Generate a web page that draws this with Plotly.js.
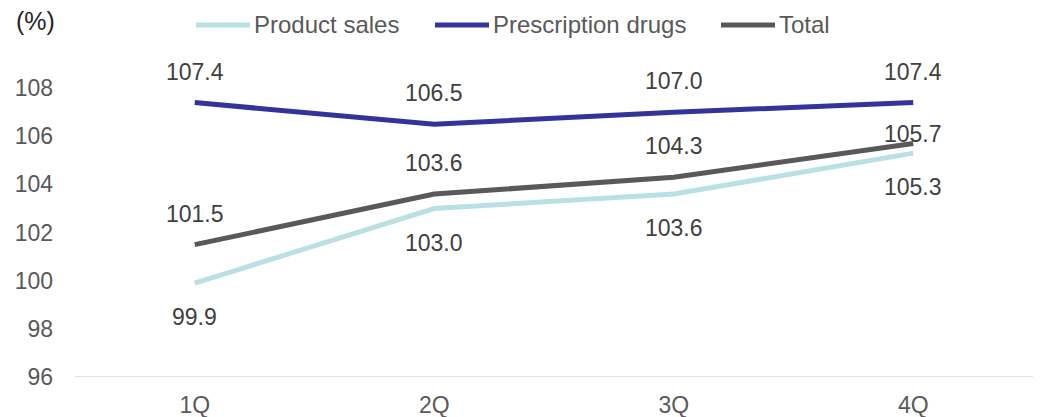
<!DOCTYPE html>
<html>
<head>
<meta charset="utf-8">
<script src="https://cdn.plot.ly/plotly-3.0.1.min.js"></script>
<style>html,body{margin:0;padding:0;background:#fff;}#chart{width:1040px;height:417px;}</style>
</head>
<body>
<div id="chart"></div>
<script>
var categories = ["1Q", "2Q", "3Q", "4Q"];
var productSales = [99.9, 103.0, 103.6, 105.3];
var prescriptionDrugs = [107.4, 106.5, 107.0, 107.4];
var total = [101.5, 103.6, 104.3, 105.7];
var seriesNames = ["Product sales", "Prescription drugs", "Total"];
var yTicks = [96, 98, 100, 102, 104, 106, 108];

var FONT = "Liberation Sans, Arial, sans-serif";
var colors = ["#BBE0E3", "#333399", "#595959"];
var seriesData = [productSales, prescriptionDrugs, total];
var labelShift = [-34, 31, 31]; // below for product sales, above for others

var W = 1040, H = 417;
var M = { l: 75, r: 7, t: 40, b: 40 };
var plotW = W - M.l - M.r, plotH = H - M.t - M.b;
function px2x(px) { return (px - M.l) / plotW; }
function py2y(py) { return 1 - (py - M.t) / plotH; }

var traces = seriesData.map(function (vals, i) {
  return {
    type: "scatter",
    mode: "lines",
    name: seriesNames[i],
    x: categories,
    y: vals,
    line: { color: colors[i], width: 5 },
    hoverinfo: "skip",
    showlegend: false
  };
});

var annotations = [];
seriesData.forEach(function (vals, i) {
  vals.forEach(function (v, j) {
    var shift = labelShift[i];
    // last Total label sits tight above its line to avoid the upper series
    if (i === 2 && j === vals.length - 1) shift = 10;
    annotations.push({
      x: categories[j], y: v, xref: "x", yref: "y",
      text: v.toFixed(1), showarrow: false,
      yshift: shift,
      font: { family: FONT, size: 23, color: "#404040" }
    });
  });
});
annotations.push({
  xref: "paper", yref: "paper", x: px2x(14), y: py2y(21),
  xanchor: "left", yanchor: "middle",
  text: "(%)", showarrow: false,
  font: { family: FONT, size: 25, color: "#262626" }
});

// custom legend (long line swatches like the original)
var legendStarts = [196, 435, 721];
var swatchLen = 54, legendY = 25;
var shapes = [{
  type: "line", xref: "paper", yref: "y",
  x0: 0, x1: 1, y0: 96, y1: 96,
  line: { color: "#D9D9D9", width: 1.5 }
}];
seriesNames.forEach(function (name, i) {
  var s = legendStarts[i];
  shapes.push({
    type: "line", xref: "paper", yref: "paper",
    x0: px2x(s), x1: px2x(s + swatchLen), y0: py2y(legendY), y1: py2y(legendY),
    line: { color: colors[i], width: 5 }
  });
  annotations.push({
    xref: "paper", yref: "paper", x: px2x(s + swatchLen + 2), y: py2y(legendY),
    xanchor: "left", yanchor: "middle", showarrow: false,
    text: name,
    font: { family: FONT, size: 24, color: "#595959" }
  });
});

var layout = {
  width: W, height: H,
  margin: { l: M.l, r: M.r, t: M.t, b: M.b, autoexpand: false },
  paper_bgcolor: "#ffffff", plot_bgcolor: "#ffffff",
  font: { family: FONT, size: 23, color: "#595959" },
  xaxis: {
    type: "category",
    range: [-0.5, 3.5],
    showgrid: false, zeroline: false,
    showline: false, automargin: false,
    ticks: "", ticklabelstandoff: 12,
    tickfont: { family: FONT, size: 23, color: "#595959" },
    fixedrange: true
  },
  yaxis: {
    range: [96, 110],
    tickvals: yTicks,
    ticktext: yTicks.map(String),
    showgrid: false, zeroline: false, showline: false, automargin: false,
    ticks: "", ticklabelstandoff: 21,
    tickfont: { family: FONT, size: 23, color: "#595959" },
    fixedrange: true
  },
  shapes: shapes,
  showlegend: false,
  annotations: annotations
};

Plotly.newPlot("chart", traces, layout, { displayModeBar: false, staticPlot: true });
</script>
</body>
</html>
